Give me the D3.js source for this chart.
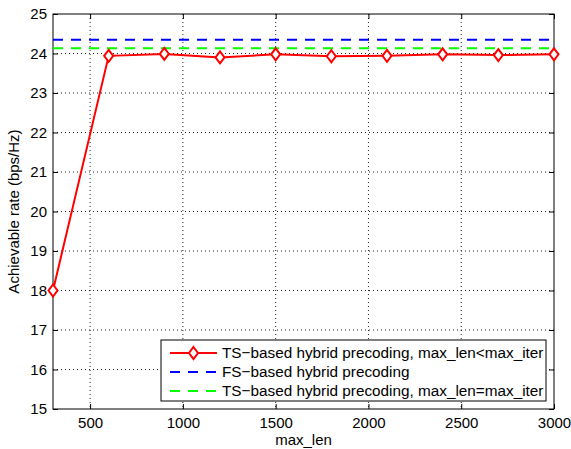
<!DOCTYPE html>
<html lang="en">
<head>
    <meta charset="UTF-8">
    <title>Achievable rate vs max_len</title>
    <script src="https://d3js.org/d3.v7.min.js"></script>
    <style>
        body { margin: 0; background: white; }
        svg { font-family: "Liberation Sans", Arial, sans-serif; }
        .tick text { font-size: 15px; fill: black; }
        .grid line { stroke: #222; stroke-width: 1; stroke-dasharray: 1,3; }
        .line { fill: none; stroke-width: 2px; }
    </style>
</head>
<body>
    <div id="chart"></div>
    <script>
        // Data
        const maxLen = [300, 600, 900, 1200, 1500, 1800, 2100, 2400, 2700, 3000];
        const tsRate = [18.0, 23.94, 23.99, 23.90, 23.98, 23.93, 23.94, 23.98, 23.96, 23.98];
        const fsRate = 24.35;
        const tsEqRate = 24.13;
        const xTicks = [500, 1000, 1500, 2000, 2500, 3000];
        const yTicks = [15, 16, 17, 18, 19, 20, 21, 22, 23, 24, 25];
        const legendLabels = [
            "TS\u2212based hybrid precoding, max_len<max_iter",
            "FS\u2212based hybrid precoding",
            "TS\u2212based hybrid precoding, max_len=max_iter"
        ];

        const W = 571, H = 449;
        const margin = { top: 14, right: 17, bottom: 40, left: 53 };
        const width = W - margin.left - margin.right;
        const height = H - margin.top - margin.bottom;

        const svg = d3.select("#chart").append("svg")
            .attr("width", W).attr("height", H);
        const g = svg.append("g")
            .attr("transform", `translate(${margin.left},${margin.top})`);

        const x = d3.scaleLinear().domain([300, 3000]).range([0, width]);
        const y = d3.scaleLinear().domain([15, 25]).range([height, 0]);

        // Grid lines (dotted)
        g.append("g").attr("class", "grid")
            .selectAll("line").data(xTicks.filter(d => d < 3000)).join("line")
            .attr("x1", d => x(d)).attr("x2", d => x(d))
            .attr("y1", 0).attr("y2", height);
        g.append("g").attr("class", "grid")
            .selectAll("line").data(yTicks.filter(d => d > 15 && d < 25)).join("line")
            .attr("x1", 0).attr("x2", width)
            .attr("y1", d => y(d)).attr("y2", d => y(d));

        // Axes with inward ticks
        const tk = 5;
        g.append("g").attr("transform", `translate(0,${height})`)
            .call(d3.axisBottom(x).tickValues(xTicks).tickFormat(d3.format("d"))
                .tickSizeInner(-tk).tickSizeOuter(0).tickPadding(8));
        g.append("g")
            .call(d3.axisLeft(y).tickValues(yTicks).tickFormat(d3.format("d"))
                .tickSizeInner(-tk).tickSizeOuter(0).tickPadding(6));
        g.append("g")
            .call(d3.axisTop(x).tickValues(xTicks).tickSizeInner(-tk).tickSizeOuter(0).tickFormat(""));
        g.append("g").attr("transform", `translate(${width},0)`)
            .call(d3.axisRight(y).tickValues(yTicks).tickSizeInner(-tk).tickSizeOuter(0).tickFormat(""));
        g.selectAll(".domain").remove();
        g.selectAll(".tick line").attr("stroke", "black");

        // Box
        g.append("rect").attr("width", width).attr("height", height)
            .attr("fill", "none").attr("stroke", "black").attr("stroke-width", 1);

        // Constant reference lines
        g.append("line").attr("class", "line")
            .attr("x1", 0).attr("x2", width)
            .attr("y1", y(fsRate)).attr("y2", y(fsRate))
            .attr("stroke", "#0000ff").attr("stroke-dasharray", "10,8");
        g.append("line").attr("class", "line")
            .attr("x1", 0).attr("x2", width)
            .attr("y1", y(tsEqRate)).attr("y2", y(tsEqRate))
            .attr("stroke", "#00ff00").attr("stroke-dasharray", "10,8");

        // TS-based line with diamond markers
        const pts = maxLen.map((d, i) => ({ x: d, y: tsRate[i] }));
        g.append("path").datum(pts).attr("class", "line")
            .attr("stroke", "#ff0000")
            .attr("d", d3.line().x(d => x(d.x)).y(d => y(d.y)));
        const diamond = "M0,-6L4.5,0L0,6L-4.5,0Z";
        g.selectAll(".marker").data(pts).join("path")
            .attr("class", "marker")
            .attr("transform", d => `translate(${x(d.x)},${y(d.y)})`)
            .attr("d", diamond)
            .attr("fill", "white").attr("stroke", "#ff0000").attr("stroke-width", 2);

        // Axis labels
        svg.append("text")
            .attr("x", margin.left + width / 2).attr("y", H - 4)
            .attr("text-anchor", "middle").attr("font-size", 15)
            .text("max_len");
        svg.append("text")
            .attr("transform", `translate(19,${margin.top + height / 2}) rotate(-90)`)
            .attr("text-anchor", "middle").attr("font-size", 15)
            .text("Achievable rate (bps/Hz)");

        // Legend
        const lg = svg.append("g");
        lg.append("rect")
            .attr("x", 161).attr("y", 340).attr("width", 385).attr("height", 61)
            .attr("fill", "white").attr("stroke", "black").attr("stroke-width", 1);
        const rows = [353, 372, 391];
        const styles = [
            { color: "#ff0000", dash: null, marker: true },
            { color: "#0000ff", dash: "10,8", marker: false },
            { color: "#00ff00", dash: "10,8", marker: false }
        ];
        legendLabels.forEach((label, i) => {
            lg.append("line")
                .attr("x1", 170).attr("x2", 217)
                .attr("y1", rows[i]).attr("y2", rows[i])
                .attr("stroke", styles[i].color).attr("stroke-width", 2)
                .attr("stroke-dasharray", styles[i].dash);
            if (styles[i].marker) {
                lg.append("path")
                    .attr("transform", `translate(193.5,${rows[i]})`)
                    .attr("d", diamond)
                    .attr("fill", "white").attr("stroke", "#ff0000").attr("stroke-width", 2);
            }
            lg.append("text")
                .attr("x", 222).attr("y", rows[i] + 5)
                .attr("font-size", 15.3)
                .text(label);
        });
    </script>
</body>
</html>
